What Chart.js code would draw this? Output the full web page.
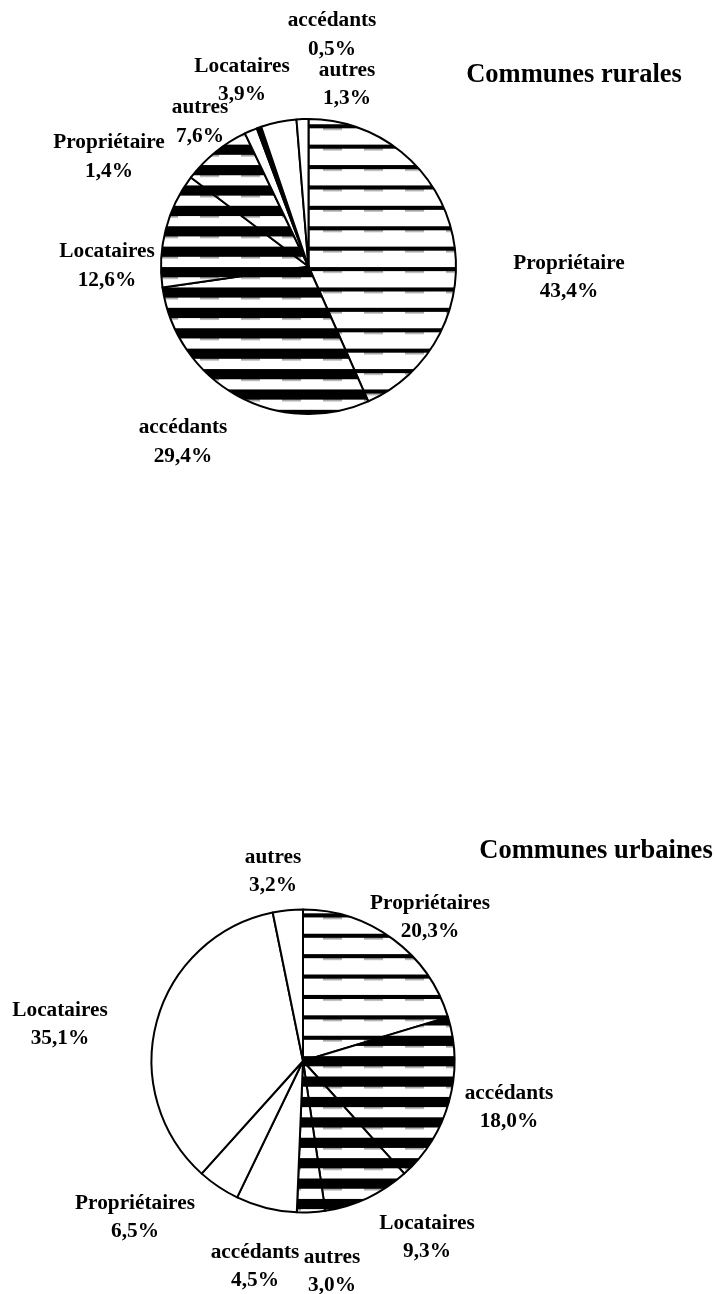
<!DOCTYPE html>
<html lang="fr">
<head>
<meta charset="utf-8">
<title>Statut d'occupation des ménages – communes rurales et urbaines</title>
<script src="https://cdn.jsdelivr.net/npm/chart.js@4.4.1/dist/chart.umd.min.js"></script>
<style>
  html, body { margin: 0; padding: 0; background: #fff; }
  body { width: 715px; height: 1294px; position: relative; overflow: hidden; }
  canvas { position: absolute; left: 0; }
  #rural { top: 0; }
  #urban { top: 600px; }
</style>
</head>
<body>
<canvas id="rural" width="715" height="600"></canvas>
<canvas id="urban" width="715" height="694"></canvas>
<script>
// Statut d'occupation, en % des ménages (secteurs dans le sens horaire depuis midi)
const ruralCategories = ['Propriétaire', 'accédants', 'Locataires', 'autres', 'Propriétaire', 'accédants', 'Locataires', 'autres'];
const ruralValues = [43.4, 29.4, 12.6, 7.6, 1.4, 0.5, 3.9, 1.3];
const urbanCategories = ['Propriétaires', 'accédants', 'Locataires', 'autres', 'Propriétaires', 'accédants', 'Locataires', 'autres'];
const urbanValues = [20.3, 18.0, 9.3, 3.0, 6.5, 4.5, 35.1, 3.2];
const ruralTitle = 'Communes rurales';
const urbanTitle = 'Communes urbaines';

// Remplissage de chaque secteur
const ruralFills = ['thin', 'thick', 'thick', 'thick', 'white', 'black', 'white', 'white'];
const urbanFills = ['thin', 'thick', 'thick', 'thick', 'white', 'white', 'white', 'white'];

// Position des étiquettes : décalage (x, ligne de base) par rapport au centre du camembert
const ruralLabelOffsets = [[260.5, 2], [-125.5, 166.5], [-201.5, -9.5], [-108.5, -153.5],
                           [-199.5, -118.5], [23.5, -240.5], [-66.5, -195], [38.5, -191]];
const urbanLabelOffsets = [[127, -152.5], [206, 37.5], [124, 167.5], [29, 201.5],
                           [-168, 147.5], [-48, 196.5], [-243, -45.5], [-30, -198.5]];

const LABEL_FONT = 'bold 21.3px "Liberation Serif", "Times New Roman", serif';
const TITLE_FONT = 'bold 26.5px "Liberation Serif", "Times New Roman", serif';
const LINE_GAP = 28.5;

const fmtPct = v => v.toFixed(1).replace('.', ',') + '%';

// Hachures horizontales : barre noire, fin tiret gris sous la barre
function makeStripe(ctx, barHeight, phaseX, phaseY) {
  const tile = document.createElement('canvas');
  tile.width = 41; tile.height = 20;
  const t = tile.getContext('2d');
  t.fillStyle = '#fff';
  t.fillRect(0, 0, 41, 20);
  t.fillStyle = '#000';
  t.fillRect(0, 0, 41, barHeight);
  t.fillStyle = '#a0a0a0';
  t.fillRect(0, barHeight, 19, 1.6);
  const p = ctx.createPattern(tile, 'repeat');
  p.setTransform(new DOMMatrix([1, 0, 0, 1.02, phaseX, phaseY]));
  return p;
}

function fillsFor(ctx, kinds, phaseX, phaseY) {
  const thin = makeStripe(ctx, 4, phaseX, phaseY);
  const thick = makeStripe(ctx, 10, phaseX, phaseY);
  return kinds.map(k => k === 'thin' ? thin : k === 'thick' ? thick : k === 'black' ? '#000' : '#fff');
}

const sliceLabels = {
  id: 'sliceLabels',
  afterDatasetsDraw(chart, args, opts) {
    const ctx = chart.ctx;
    const meta = chart.getDatasetMeta(0);
    const values = chart.data.datasets[0].data;
    ctx.save();
    ctx.fillStyle = '#000';
    ctx.textAlign = 'center';
    ctx.textBaseline = 'alphabetic';
    ctx.font = LABEL_FONT;
    meta.data.forEach((arc, i) => {
      const off = opts.offsets[i];
      const x = arc.x + off[0];
      const y = arc.y + off[1];
      ctx.fillText(chart.data.labels[i], x, y);
      ctx.fillText(fmtPct(values[i]), x, y + LINE_GAP);
    });
    ctx.font = TITLE_FONT;
    ctx.fillText(opts.title, opts.titleX, opts.titleY);
    ctx.restore();
  }
};

function pieChart(canvasId, categories, values, fills, offsets, title, layout) {
  const canvas = document.getElementById(canvasId);
  const ctx = canvas.getContext('2d');
  return new Chart(ctx, {
    type: 'pie',
    data: {
      labels: categories,
      datasets: [{
        data: values,
        backgroundColor: fillsFor(ctx, fills, layout.phaseX, layout.phaseY),
        borderColor: '#000',
        borderWidth: 2,
        borderAlign: 'center',
        borderJoinStyle: 'round'
      }]
    },
    options: {
      responsive: false,
      animation: false,
      events: [],
      radius: layout.radius,
      layout: { padding: layout.padding },
      plugins: {
        legend: { display: false },
        tooltip: { enabled: false },
        sliceLabels: { offsets: offsets, title: title, titleX: layout.titleX, titleY: layout.titleY }
      }
    },
    plugins: [sliceLabels]
  });
}

pieChart('rural', ruralCategories, ruralValues, ruralFills, ruralLabelOffsets, ruralTitle, {
  radius: 147.5,
  padding: { left: 0, right: 98, top: 0, bottom: 67 },
  phaseX: 36, phaseY: 1.8,
  titleX: 574, titleY: 82
});

pieChart('urban', urbanCategories, urbanValues, urbanFills, urbanLabelOffsets, urbanTitle, {
  radius: 151.5,
  padding: { left: 0, right: 109, top: 228, bottom: 0 },
  phaseX: 36, phaseY: 7.3,
  titleX: 596, titleY: 258
});
</script>
</body>
</html>
